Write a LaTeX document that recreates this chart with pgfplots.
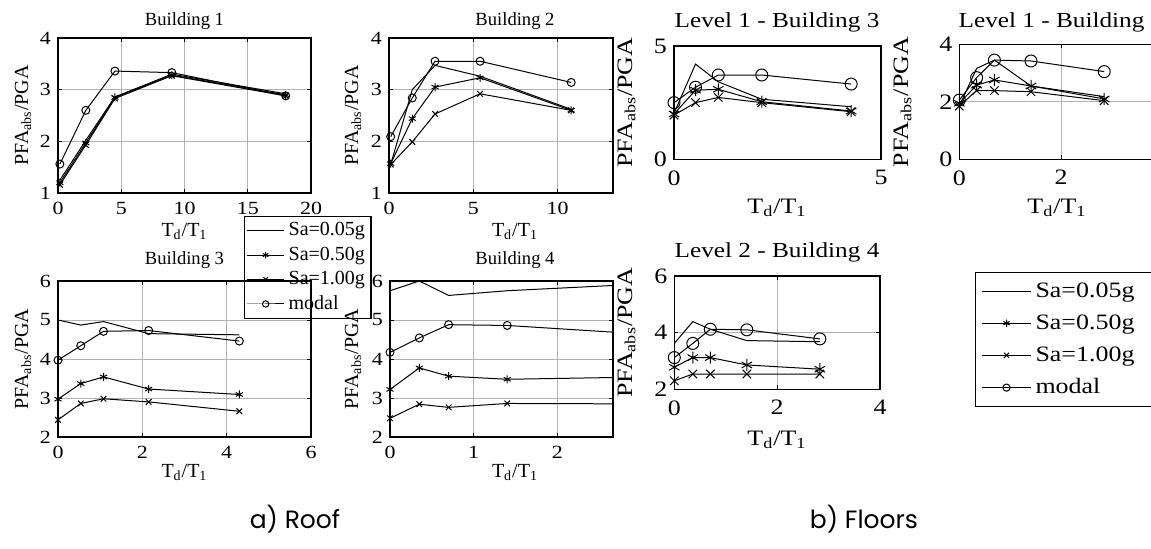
\documentclass[border=0pt]{standalone}
\usepackage{pgfplots}
\pgfplotsset{compat=1.18}
\usepackage{fontspec}
\setmainfont{Liberation Serif}
\newfontfamily\wideserif{Liberation Serif}[FakeStretch=1.18]
\newfontfamily\capfont{Poppins}

\pgfplotsset{
  base/.style={
    scale only axis,
    axis line style={black, line width=0.6pt},
    tick align=inside, major tick length=2pt,
    every tick/.style={black, line width=0.4pt},
    grid=major, grid style={gray!60, line width=0.4pt},
    /pgf/number format/assume math mode=true,
    clip=true,
    every axis plot/.append style={black, line width=0.5pt, mark options={solid, line width=0.5pt}},
  },
  roof/.style={base,
    ticklabel style={font=\wideserif\fontsize{9.3}{11}\selectfont},
    xticklabel style={yshift=-1.2pt},
    every axis plot/.append style={mark size=2pt},
    legend image code/.code={\draw[mark repeat=2,mark phase=2,line width=0.5pt,##1,mark size=1.6pt] plot coordinates {(0pt,0pt) (9.25pt,0pt) (18.5pt,0pt)};},
  },
  floor/.style={base,
    ticklabel style={font=\wideserif\fontsize{11}{13}\selectfont},
    xticklabel style={yshift=-2pt},
    every axis plot/.append style={mark size=3pt},
    legend image code/.code={\draw[mark repeat=2,mark phase=2,line width=0.5pt,##1,mark size=1.8pt] plot coordinates {(0pt,0pt) (12.25pt,0pt) (24.5pt,0pt)};},
  },
  s05/.style={no markers},
  s50/.style={mark=asterisk},
  s100/.style={mark=x},
  smod/.style={mark=o},
}

\begin{document}
\begin{tikzpicture}
% ---------------- Building 1 ----------------
\begin{axis}[roof, at={(29pt,177.5pt)}, anchor=south west, width=126.5pt, height=77.5pt,
  xmin=0, xmax=20, ymin=1, ymax=4, xtick={0,5,10,15,20}, ytick={1,2,3,4},
  legend style={at={(axis description cs:0.735,-0.148)}, anchor=north west,
    font=\fontsize{10}{11.5}\selectfont, draw=black, line width=0.7pt,
    inner xsep=1pt, inner ysep=1pt, row sep=0pt},
  legend cell align=left]
\addplot[s05] coordinates {(0.15,1.25) (2.2,2.02) (4.5,2.86) (9,3.30) (18,2.92)};
\addlegendentry{Sa=0.05g}
\addplot[s50] coordinates {(0.15,1.20) (2.2,1.97) (4.5,2.85) (9,3.28) (18,2.90)};
\addlegendentry{Sa=0.50g}
\addplot[s100] coordinates {(0.15,1.16) (2.2,1.93) (4.5,2.83) (9,3.27) (18,2.88)};
\addlegendentry{Sa=1.00g}
\addplot[smod] coordinates {(0.15,1.56) (2.2,2.60) (4.5,3.36) (9,3.33) (18,2.88)};
\addlegendentry{modal}
\end{axis}
% ---------------- Building 2 ----------------
\begin{axis}[roof, at={(194.5pt,177.5pt)}, anchor=south west, width=112pt, height=77.5pt,
  xmin=0, xmax=13.28, ymin=1, ymax=4, xtick={0,5,10}, ytick={1,2,3,4}]
\addplot[s05] coordinates {(0.1,1.55) (1.38,3.0) (2.73,3.47) (5.4,3.26) (10.8,2.62)};
\addplot[s50] coordinates {(0.1,1.57) (1.38,2.44) (2.73,3.05) (5.4,3.23) (10.8,2.60)};
\addplot[s100] coordinates {(0.1,1.55) (1.38,1.99) (2.73,2.53) (5.4,2.92) (10.8,2.60)};
\addplot[smod] coordinates {(0.1,2.09) (1.38,2.84) (2.73,3.55) (5.4,3.55) (10.8,3.14)};
\end{axis}
% ---------------- Building 3 ----------------
\begin{axis}[roof, at={(29pt,55.5pt)}, anchor=south west, width=126.5pt, height=78pt,
  xmin=0, xmax=6, ymin=2, ymax=6, xtick={0,2,4,6}, ytick={2,3,4,5,6}]
\addplot[s05] coordinates {(0,5.0) (0.54,4.87) (1.08,4.96) (2.15,4.65) (4.3,4.62)};
\addplot[s50] coordinates {(0,2.97) (0.54,3.37) (1.08,3.54) (2.15,3.23) (4.3,3.09)};
\addplot[s100] coordinates {(0,2.44) (0.54,2.86) (1.08,2.98) (2.15,2.90) (4.3,2.66)};
\addplot[smod] coordinates {(0,3.97) (0.54,4.34) (1.08,4.71) (2.15,4.73) (4.3,4.46)};
\end{axis}
% ---------------- Building 4 ----------------
\begin{axis}[roof, at={(195pt,55.5pt)}, anchor=south west, width=111.5pt, height=78pt,
  xmin=0, xmax=2.664, ymin=2, ymax=6, xtick={0,1,2}, ytick={2,3,4,5,6}]
\addplot[s05] coordinates {(0,5.75) (0.35,6.0) (0.7,5.63) (1.4,5.75) (2.8,5.9)};
\addplot[s50] coordinates {(0,3.22) (0.35,3.77) (0.7,3.56) (1.4,3.48) (2.8,3.53)};
\addplot[s100] coordinates {(0,2.48) (0.35,2.84) (0.7,2.76) (1.4,2.86) (2.8,2.85)};
\addplot[smod] coordinates {(0,4.17) (0.35,4.54) (0.7,4.88) (1.4,4.86) (2.8,4.67)};
\end{axis}
% ---------------- Level 1 - Building 3 ----------------
\begin{axis}[floor, at={(337pt,194.35pt)}, anchor=south west, width=103.5pt, height=56.65pt,
  xmin=0, xmax=5, ymin=0, ymax=5, xtick={0,5}, ytick={0,5}]
\addplot[s05] coordinates {(0,2.03) (0.52,4.2) (1.07,3.42) (2.12,2.65) (4.28,2.32)};
\addplot[s50] coordinates {(0,2.0) (0.52,3.05) (1.07,3.09) (2.12,2.54) (4.28,2.13)};
\addplot[s100] coordinates {(0,1.95) (0.52,2.5) (1.07,2.73) (2.12,2.5) (4.28,2.1)};
\addplot[smod] coordinates {(0,2.5) (0.52,3.18) (1.07,3.72) (2.12,3.72) (4.28,3.32)};
\end{axis}
% ---------------- Level 1 - Building 4 ----------------
\begin{axis}[floor, at={(479.65pt,194.35pt)}, anchor=south west, width=101.7pt, height=57.5pt,
  xmin=0, xmax=4, ymin=0, ymax=4, xtick={0,2,4}, ytick={0,2,4}]
\addplot[s05] coordinates {(0,1.85) (0.34,3.16) (0.69,3.45) (1.41,2.55) (2.85,2.18)};
\addplot[s50] coordinates {(0,1.95) (0.34,2.58) (0.69,2.76) (1.41,2.55) (2.85,2.1)};
\addplot[s100] coordinates {(0,1.85) (0.34,2.39) (0.69,2.39) (1.41,2.35) (2.85,2.04)};
\addplot[smod] coordinates {(0,2.06) (0.34,2.84) (0.69,3.45) (1.41,3.42) (2.85,3.05)};
\end{axis}
% ---------------- Level 2 - Building 4 ----------------
\begin{axis}[floor, at={(337.15pt,79.35pt)}, anchor=south west, width=102.85pt, height=56.65pt,
  xmin=0, xmax=4, ymin=2, ymax=6, xtick={0,2,4}, ytick={2,4,6},
  legend style={at={(axis description cs:1.461,1.038)}, anchor=north west,
    font=\wideserif\fontsize{11}{13}\selectfont, draw=black, line width=0.7pt,
    inner xsep=3pt, inner ysep=3pt, row sep=3.2pt},
  legend cell align=left]
\addplot[s05] coordinates {(0,3.62) (0.36,4.39) (0.7,4.12) (1.41,3.72) (2.83,3.68)};
\addlegendentry{Sa=0.05g\hspace*{12pt}}
\addplot[s50] coordinates {(0,2.78) (0.36,3.12) (0.7,3.12) (1.41,2.86) (2.83,2.71)};
\addlegendentry{Sa=0.50g}
\addplot[s100] coordinates {(0,2.3) (0.36,2.54) (0.7,2.54) (1.41,2.54) (2.83,2.54)};
\addlegendentry{Sa=1.00g}
\addplot[smod] coordinates {(0,3.12) (0.36,3.62) (0.7,4.12) (1.41,4.1) (2.83,3.78)};
\addlegendentry{modal}
\end{axis}

\begin{scope}[x=1pt, y=1pt, every node/.style={inner sep=0pt}]
% ---------------- Titles and labels (roof) ----------------
\node[anchor=base, font=\fontsize{9.3}{11}\selectfont] at (92.25,261.5) {Building 1};
\node[anchor=base, font=\fontsize{9.3}{11}\selectfont] at (257.5,261.5) {Building 2};
\node[anchor=base, font=\fontsize{9.3}{11}\selectfont] at (92.25,141.75) {Building 3};
\node[anchor=base, font=\fontsize{9.3}{11}\selectfont] at (257.5,141.75) {Building 4};
\node[anchor=base, font=\fontsize{10}{12}\selectfont] at (92.25,156) {T\textsubscript{d}/T\textsubscript{1}};
\node[anchor=base, font=\fontsize{10}{12}\selectfont] at (257.5,156) {T\textsubscript{d}/T\textsubscript{1}};
\node[anchor=base, font=\fontsize{10}{12}\selectfont] at (92.25,35.5) {T\textsubscript{d}/T\textsubscript{1}};
\node[anchor=base, font=\fontsize{10}{12}\selectfont] at (257.5,35.5) {T\textsubscript{d}/T\textsubscript{1}};
\node[anchor=base, rotate=90, font=\fontsize{10}{12}\selectfont] at (14,216.25) {PFA\textsubscript{abs}/PGA};
\node[anchor=base, rotate=90, font=\fontsize{10}{12}\selectfont] at (179,216.25) {PFA\textsubscript{abs}/PGA};
\node[anchor=base, rotate=90, font=\fontsize{10}{12}\selectfont] at (14,94.5) {PFA\textsubscript{abs}/PGA};
\node[anchor=base, rotate=90, font=\fontsize{10}{12}\selectfont] at (179,94.5) {PFA\textsubscript{abs}/PGA};
% ---------------- floors ----------------
\node[anchor=base, font=\wideserif\fontsize{10.7}{13}\selectfont] at (388.5,260.5) {Level 1 - Building 3};
\node[anchor=base, font=\wideserif\fontsize{10.7}{13}\selectfont] at (530.5,260.5) {Level 1 - Building 4};
\node[anchor=base, font=\wideserif\fontsize{10.7}{13}\selectfont] at (388.5,145.5) {Level 2 - Building 4};
\node[anchor=base, font=\wideserif\fontsize{11}{13}\selectfont] at (388.5,167.5) {T\textsubscript{d}/T\textsubscript{1}};
\node[anchor=base, font=\wideserif\fontsize{11}{13}\selectfont] at (528.5,167.5) {T\textsubscript{d}/T\textsubscript{1}};
\node[anchor=base, font=\wideserif\fontsize{11}{13}\selectfont] at (388.5,51.5) {T\textsubscript{d}/T\textsubscript{1}};
\node[anchor=base, rotate=90, font=\wideserif\fontsize{11}{13}\selectfont] at (316,222.7) {PFA\textsubscript{abs}/PGA};
\node[anchor=base, rotate=90, font=\wideserif\fontsize{11}{13}\selectfont] at (454,223) {PFA\textsubscript{abs}/PGA};
\node[anchor=base, rotate=90, font=\wideserif\fontsize{11}{13}\selectfont] at (316,107.6) {PFA\textsubscript{abs}/PGA};
% ---------------- captions ----------------
\node[font=\capfont\fontsize{12.5}{14}\selectfont] at (147.5,14.5) {a) Roof};
\node[font=\capfont\fontsize{12.5}{14}\selectfont] at (432,14.5) {b) Floors};
\end{scope}

\pgfresetboundingbox
\path[use as bounding box] (0pt,0pt) rectangle (575.5pt,274pt);
\end{tikzpicture}
\end{document}
